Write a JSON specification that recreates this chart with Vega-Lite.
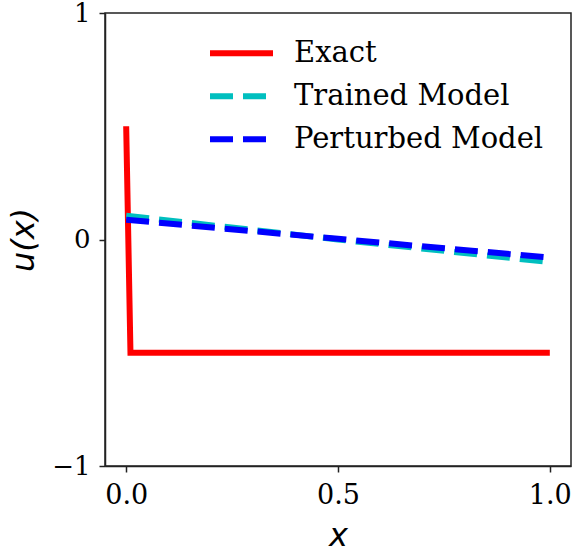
{
  "$schema": "https://vega.github.io/schema/vega-lite/v6.json",
  "width": 466,
  "height": 453,
  "autosize": "none",
  "padding": {"left": 105, "top": 13, "right": 4, "bottom": 90},
  "background": "white",
  "config": {
    "view": {"stroke": "#222222", "strokeWidth": 1.5},
    "axis": {
      "grid": false,
      "domainColor": "#222222",
      "domainWidth": 1.5,
      "tickColor": "#222222",
      "tickWidth": 1.5,
      "tickSize": 6,
      "labelFont": "DejaVu Serif",
      "labelFontSize": 27,
      "labelColor": "black",
      "labelOverlap": false,
      "titleFont": "DejaVu Sans",
      "titleFontStyle": "italic",
      "titleFontWeight": "normal",
      "titleFontSize": 32,
      "titleColor": "black"
    },
    "legend": {
      "labelFont": "DejaVu Serif",
      "labelFontSize": 29,
      "labelColor": "black",
      "labelLimit": 500
    }
  },
  "data": {
    "values": [
      {"x": 0, "y": 0.5, "series": "Exact"},
      {"x": 0.0101, "y": -0.5, "series": "Exact"},
      {"x": 1, "y": -0.5, "series": "Exact"},
      {"x": 0, "y": 0.105, "series": "Trained Model"},
      {"x": 0.5, "y": 0.0, "series": "Trained Model"},
      {"x": 1, "y": -0.1, "series": "Trained Model"},
      {"x": 0, "y": 0.087, "series": "Perturbed Model"},
      {"x": 0.5, "y": 0.003, "series": "Perturbed Model"},
      {"x": 1, "y": -0.08, "series": "Perturbed Model"}
    ]
  },
  "encoding": {
    "x": {
      "field": "x", "type": "quantitative",
      "scale": {"domain": [-0.05, 1.05], "nice": false, "zero": false},
      "axis": {"values": [0, 0.5, 1], "format": ".1f", "title": "x",
               "labelBaseline": "alphabetic", "labelPadding": 31,
               "titleBaseline": "alphabetic", "titleY": 79}
    },
    "y": {
      "field": "y", "type": "quantitative",
      "scale": {"domain": [-1, 1], "nice": false, "zero": false},
      "axis": {"values": [-1, 0, 1], "title": "u(x)",
               "labelFontSize": 26,
               "labelExpr": "datum.value === 0 ? '0' : (datum.value > 0 ? '1' : '−1')",
               "labelPadding": 9,
               "titleBaseline": "alphabetic", "titleX": -72}
    },
    "color": {
      "field": "series", "type": "nominal",
      "scale": {"domain": ["Exact", "Trained Model", "Perturbed Model"],
                "range": ["#ff0000", "#00bfbf", "#0000ff"]},
      "legend": {"title": null, "orient": "none", "legendX": 102, "legendY": 19,
                 "symbolType": "stroke", "symbolSize": 3969, "symbolStrokeWidth": 6,
                 "labelOffset": 18, "clipHeight": 42.5, "rowPadding": 0}
    },
    "strokeDash": {
      "field": "series", "type": "nominal",
      "scale": {"domain": ["Exact", "Trained Model", "Perturbed Model"],
                "range": [[1, 0], [23, 10], [23, 10]]},
      "legend": null
    }
  },
  "layer": [
    {"transform": [{"filter": "datum.series === 'Exact'"}], "mark": {"type": "line", "strokeWidth": 6, "clip": true}},
    {"transform": [{"filter": "datum.series === 'Trained Model'"}], "mark": {"type": "line", "strokeWidth": 6, "clip": true}},
    {"transform": [{"filter": "datum.series === 'Perturbed Model'"}], "mark": {"type": "line", "strokeWidth": 6, "clip": true}}
  ]
}
